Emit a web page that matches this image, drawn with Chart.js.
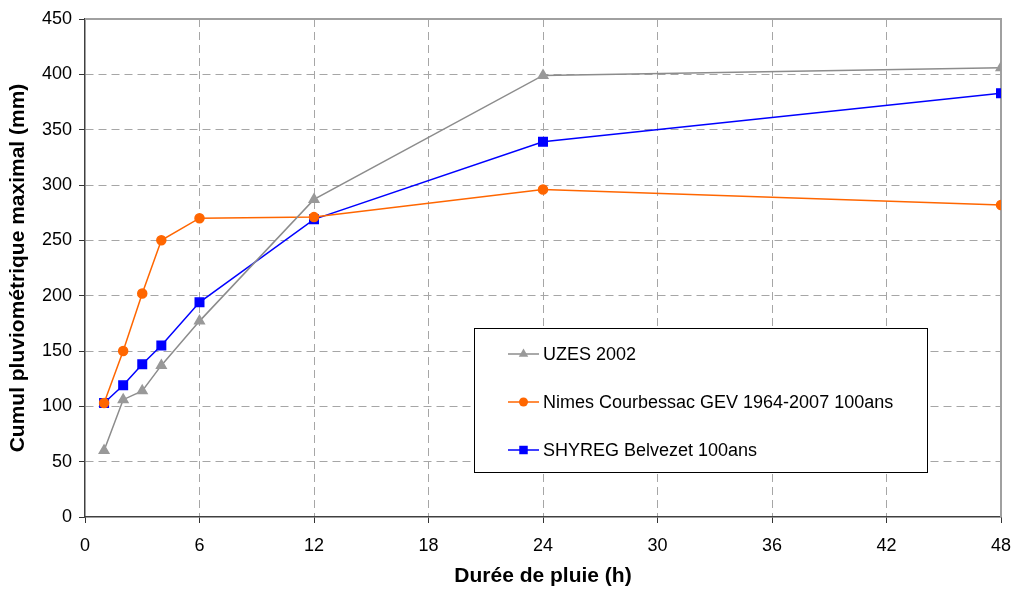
<!DOCTYPE html>
<html>
<head>
<meta charset="utf-8">
<script src="https://cdn.jsdelivr.net/npm/chart.js@4/dist/chart.umd.min.js"></script>
<style>
  html, body { margin: 0; padding: 0; background: #fff; }
  #wrap { width: 1013px; height: 590px; }
</style>
</head>
<body>
<div id="wrap"><canvas id="c" width="1013" height="590"></canvas></div>
<script>
const durations = [1, 2, 3, 4, 6, 12, 24, 48];
const uzes2002 = [60, 106, 114, 137, 177, 287, 399, 406];
const nimesGEV = [103, 150, 202, 250, 270, 271, 296, 282];
const shyregBelvezet = [103, 119, 138, 155, 194, 269, 339, 383];
const seriesNames = ['UZES 2002', 'Nimes Courbessac GEV 1964-2007 100ans', 'SHYREG Belvezet 100ans'];
const xTicks = [0, 6, 12, 18, 24, 30, 36, 42, 48];
const yTicks = [0, 50, 100, 150, 200, 250, 300, 350, 400, 450];

const FONT = '"Liberation Sans", Arial, Helvetica, sans-serif';
const toXY = arr => arr.map((v, i) => ({x: durations[i], y: v}));

const frame = {
  id: 'frame',
  beforeDatasetsDraw(chart) {
    const {ctx, chartArea: a} = chart;
    ctx.save();
    ctx.strokeStyle = '#a0a0a0';
    ctx.lineWidth = 2;
    ctx.beginPath();
    ctx.moveTo(a.left, a.top);
    ctx.lineTo(a.right, a.top);
    ctx.lineTo(a.right, a.bottom);
    ctx.stroke();
    ctx.restore();
  }
};

const boxLegend = {
  id: 'boxLegend',
  afterDraw(chart) {
    const ctx = chart.ctx;
    ctx.save();
    ctx.fillStyle = '#fff';
    ctx.fillRect(474, 328, 453, 144);
    ctx.strokeStyle = '#000';
    ctx.lineWidth = 1;
    ctx.strokeRect(474.5, 328.5, 453, 144);
    const rows = [354, 402, 450];
    chart.data.datasets.forEach((ds, i) => {
      const y = rows[i];
      ctx.strokeStyle = ds.borderColor;
      ctx.lineWidth = ds.borderWidth;
      ctx.beginPath();
      ctx.moveTo(508, y);
      ctx.lineTo(539, y);
      ctx.stroke();
      ctx.fillStyle = ds.pointBackgroundColor;
      ctx.beginPath();
      if (ds.pointStyle === 'circle') ctx.arc(523.5, y, ds.pointRadius, 0, Math.PI * 2);
      else if (ds.pointStyle === 'rect') { const s = ds.pointRadius * Math.SQRT1_2; ctx.rect(523.5 - s, y - s, 2 * s, 2 * s); }
      else { const r = ds.pointRadius; ctx.moveTo(523.5, y - r); ctx.lineTo(523.5 + r * 0.866, y + r * 0.5); ctx.lineTo(523.5 - r * 0.866, y + r * 0.5); ctx.closePath(); }
      ctx.fill();
      ctx.fillStyle = '#000';
      ctx.font = '18px ' + FONT;
      ctx.textBaseline = 'middle';
      ctx.textAlign = 'left';
      ctx.fillText(seriesNames[i], 543, y + 1);
    });
    ctx.restore();
  }
};

const gridColor = (edgeVals) => (c) => (c.tick && edgeVals.includes(c.tick.value)) ? 'rgba(0,0,0,0)' : '#a6a6a6';

new Chart(document.getElementById('c'), {
  type: 'line',
  data: {
    datasets: [
      {
        label: seriesNames[0], data: toXY(uzes2002),
        borderColor: '#8c8c8c', backgroundColor: '#999999',
        pointBackgroundColor: '#999999', pointBorderColor: '#999999',
        pointStyle: 'triangle', pointRadius: 5.5, borderWidth: 1.5, tension: 0
      },
      {
        label: seriesNames[1], data: toXY(nimesGEV),
        borderColor: '#ff6600', backgroundColor: '#ff6600',
        pointBackgroundColor: '#ff6600', pointBorderColor: '#ff6600',
        pointStyle: 'circle', pointRadius: 4.5, borderWidth: 1.5, tension: 0
      },
      {
        label: seriesNames[2], data: toXY(shyregBelvezet),
        borderColor: '#0000ff', backgroundColor: '#0000ff',
        pointBackgroundColor: '#0000ff', pointBorderColor: '#0000ff',
        pointStyle: 'rect', pointRadius: 6, borderWidth: 1.5, tension: 0
      }
    ]
  },
  options: {
    responsive: false,
    animation: false,
    layout: { padding: { top: 19, right: 12, left: 0, bottom: 0 } },
    plugins: { legend: { display: false }, tooltip: { enabled: false } },
    elements: { point: { borderWidth: 1, hoverRadius: 5 } },
    scales: {
      x: {
        type: 'linear', min: 0, max: 48,
        afterFit(s) { s.height = 73; s.paddingLeft = 0; s.paddingRight = 0; },
        afterBuildTicks(s) { s.ticks = xTicks.map(v => ({value: v})); },
        ticks: { color: '#000', font: { size: 18, family: FONT }, padding: 12, maxRotation: 0 },
        grid: { color: gridColor([0, 48]), lineWidth: 1, tickColor: '#333', tickLength: 6, tickWidth: 1 },
        border: { color: '#404040', width: 1.5, dash: [8, 5] },
        title: { display: true, text: 'Durée de pluie (h)', color: '#000', font: { size: 21, weight: 'bold', family: FONT }, padding: { top: 0, bottom: 1 } }
      },
      y: {
        type: 'linear', min: 0, max: 450,
        afterFit(s) { s.width = 85; s.paddingTop = 0; s.paddingBottom = 0; },
        afterBuildTicks(s) { s.ticks = yTicks.map(v => ({value: v})); },
        ticks: { color: '#000', font: { size: 18, family: FONT }, padding: 7 },
        grid: { color: gridColor([0, 450]), lineWidth: 1, tickColor: '#333', tickLength: 6, tickWidth: 1 },
        border: { color: '#404040', width: 1.5, dash: [8, 5] },
        title: { display: true, text: 'Cumul pluviométrique maximal (mm)', color: '#000', font: { size: 21, weight: 'bold', family: FONT }, padding: { top: 6, bottom: 0 } }
      }
    }
  },
  plugins: [frame, boxLegend]
});
</script>
</body>
</html>
